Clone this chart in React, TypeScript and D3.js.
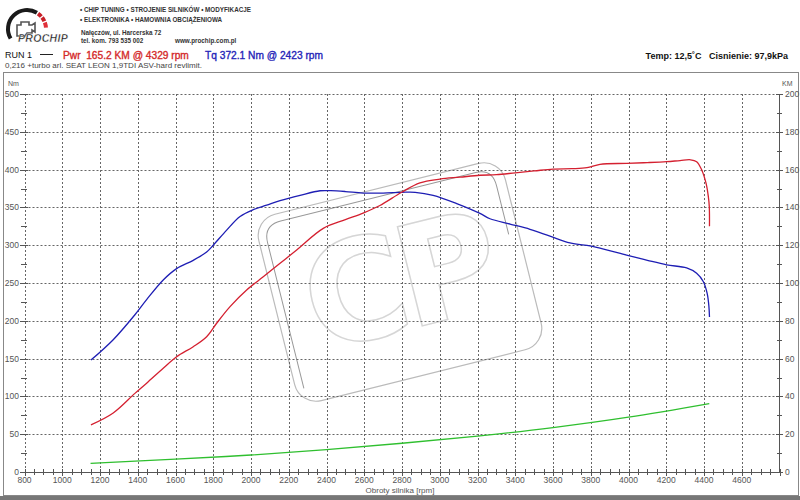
import React from "react";
import * as d3 from "d3";

// ---- data ----
const torqueRpm = [1152, 1270, 1385, 1447, 1535, 1606, 1694, 1765, 1800, 1871, 1942, 2012, 2083, 2154, 2260, 2366, 2423, 2500, 2594, 2700, 2800, 2870, 2965, 3090, 3213, 3266, 3372, 3478, 3584, 3690, 3796, 3849, 3990, 4100, 4202, 4308, 4361, 4396, 4417, 4426, 4429];
const torqueNm = [148, 175, 208, 228, 254, 269, 280, 291, 300, 320, 338, 347, 353, 359, 366, 372, 372.1, 371, 369, 369, 370, 370, 366, 355, 342, 335, 328, 321, 312, 303, 299, 296, 287, 280, 274, 270, 263, 252, 236, 219, 205];

const powerRpm = [1152, 1270, 1385, 1447, 1535, 1606, 1694, 1765, 1818, 1889, 1977, 2065, 2154, 2242, 2383, 2500, 2594, 2683, 2798, 2895, 3001, 3107, 3213, 3300, 3400, 3500, 3600, 3700, 3780, 3849, 3990, 4100, 4202, 4273, 4329, 4361, 4388, 4411, 4423, 4428, 4429];
const powerKm = [24.9, 31.2, 41.6, 47, 54.9, 61, 66.3, 71.6, 78.7, 87.5, 96.3, 103.3, 110.4, 117.5, 128.9, 133.5, 137, 141, 148, 153, 155, 156, 157, 157.3, 158.3, 159.3, 160.3, 160.5, 161, 162.8, 163.3, 163.7, 164.2, 164.8, 165.2, 164.2, 159.8, 152.7, 145.7, 140.4, 130];

const lossRpm = [1150, 1600, 2000, 2400, 2800, 3200, 3600, 4000, 4428];
const lossKm = [4.6, 6.8, 9.0, 11.8, 15.2, 19, 23.5, 29, 36.2];

const rpmTicks = [800, 1000, 1200, 1400, 1600, 1800, 2000, 2200, 2400, 2600, 2800, 3000, 3200, 3400, 3600, 3800, 4000, 4200, 4400, 4600];
const nmTicks = [0, 50, 100, 150, 200, 250, 300, 350, 400, 450, 500];
const kmTicks = [0, 20, 40, 60, 80, 100, 120, 140, 160, 180, 200];

const FONT = "'Liberation Sans', Arial, sans-serif";

export default function App() {
  const x = d3.scaleLinear().domain([800, 4800]).range([24.5, 779.5]);
  const yNm = d3.scaleLinear().domain([0, 500]).range([472, 94]);
  const yKm = d3.scaleLinear().domain([0, 200]).range([472, 94]);

  const line = d3.line<[number, number]>().curve(d3.curveCatmullRom.alpha(0.5));
  const torquePath = line(torqueRpm.map((r, i) => [x(r), yNm(torqueNm[i])]))!;
  const powerPath = line(powerRpm.map((r, i) => [x(r), yKm(powerKm[i])]))!;
  const lossPath = line(lossRpm.map((r, i) => [x(r), yKm(lossKm[i])]))!;

  const minorX = d3.range(800, 4801, 50);
  const minorNm = d3.range(0, 501, 25);
  const minorKm = d3.range(0, 201, 10);

  const arc = d3.arc<any>();
  const gauge = arc({ innerRadius: 17, outerRadius: 21, startAngle: -2.1, endAngle: 0.55 })!;
  const reds = [
    [0.62, 0.85],
    [0.92, 1.15],
    [1.22, 1.5],
  ].map((a) => arc({ innerRadius: 17, outerRadius: 21, startAngle: a[0], endAngle: a[1] })!);

  return (
    <svg width={800} height={500} style={{ position: "absolute", left: 0, top: 0, background: "#fff" }} fontFamily={FONT}>
      <rect x={0} y={0} width={800} height={500} fill="#fff" />

      {/* logo */}
      <g transform="translate(27,29)">
        <path d={gauge} fill="#1a1a1a" />
        {reds.map((d, i) => (
          <path key={i} d={d} fill={i === 2 ? "#e0303a" : "#c82028"} />
        ))}
        <circle r={15} fill="#fff" />
        <path d="M-10,-4 h4 v-3 h8 v3 h3 l3,-2 v9 l-3,-2 v3 h-5 l-2,3 h-8 z" fill="none" stroke="#555" strokeWidth={1.6} />
      </g>
      <text x={18} y={42} fontSize={10.5} fontWeight="bold" fontStyle="italic" fill="#111" stroke="#fff" strokeWidth={0.4} letterSpacing={0.3}>PROCHIP</text>

      <g fontSize={6.3} fontWeight="bold" fill="#333">
        <text x={80} y={12}>• CHIP TUNING • STROJENIE SILNIKÓW • MODYFIKACJE</text>
        <text x={80} y={22}>• ELEKTRONIKA • HAMOWNIA OBCIĄŻENIOWA</text>
      </g>
      <g fontSize={6.3} fill="#333" fontWeight="bold">
        <text x={81} y={35}>Nałęczów, ul. Harcerska 72</text>
        <text x={81} y={43}>tel. kom. 793 535 002</text>
        <text x={175} y={43}>www.prochip.com.pl</text>
      </g>

      {/* header */}
      <text x={5} y={58} fontSize={9} fill="#111">RUN 1</text>
      <line x1={40} x2={53} y1={54.5} y2={54.5} stroke="#222" strokeWidth={1} />
      <text x={63} y={59} fontSize={10.2} fill="#d42a2a" stroke="#d42a2a" strokeWidth={0.35} xmlSpace="preserve">Pwr  165.2 KM @ 4329 rpm</text>
      <text x={205} y={59} fontSize={10.2} fill="#2424b8" stroke="#2424b8" strokeWidth={0.35}>Tq 372.1 Nm @ 2423 rpm</text>
      <text x={5} y={68} fontSize={8} fill="#444">0,216 +turbo arl. SEAT LEON 1,9TDI ASV-hard revlimit.</text>
      <text x={788} y={59} fontSize={9} fontWeight="bold" fill="#111" textAnchor="end" xmlSpace="preserve">Temp: 12,5˚C   Cisnienie: 97,9kPa</text>

      {/* frame */}
      <rect x={3.5} y={72.5} width={795} height={423} fill="none" stroke="#888" strokeWidth={1} />
      <rect x={0} y={496} width={800} height={4} fill="#777" />

      {/* watermark */}
      <g transform="translate(400,282) rotate(-14)" fill="none">
        <rect x={-127} y={-96} width={254} height={192} rx={22} stroke="#bbb" strokeWidth={1.2} />
        <path d="M-119,80 V-70 Q-119,-88 -101,-88 H100 Q117,-88 117,-70 V-20" stroke="#999" strokeWidth={1} />
        <text x={-2} y={48} fontSize={140} fontWeight="bold" fontFamily="'DejaVu Sans', sans-serif" textAnchor="middle" stroke="#d6d6d6" strokeWidth={1.5} letterSpacing={-8}>CP</text>
      </g>

      {/* grid */}
      <g stroke="#666" strokeWidth={1} strokeDasharray="2,2">
        {nmTicks.filter((t) => t > 0).map((t) => (
          <line key={"h" + t} x1={x(800)} x2={x(4800)} y1={Math.round(yNm(t)) + 0.5} y2={Math.round(yNm(t)) + 0.5} />
        ))}
        {rpmTicks.map((t) => (
          <line key={"v" + t} x1={Math.round(x(t)) + 0.5} x2={Math.round(x(t)) + 0.5} y1={yNm(500)} y2={yNm(0)} />
        ))}
      </g>

      {/* axes */}
      <g stroke="#555" strokeWidth={1}>
        <line x1={x(800)} x2={x(4800)} y1={472.5} y2={472.5} />
        <line x1={779.5} x2={779.5} y1={yKm(200)} y2={yKm(0)} />
        {minorX.map((t) => (
          <line key={"mx" + t} x1={Math.round(x(t)) + 0.5} x2={Math.round(x(t)) + 0.5} y1={469} y2={t % 200 === 0 ? 476 : 475} />
        ))}
        {minorNm.map((t) => (
          <line key={"mn" + t} x1={t % 50 === 0 ? 20 : 21} x2={t % 50 === 0 ? 28 : 27} y1={Math.round(yNm(t)) + 0.5} y2={Math.round(yNm(t)) + 0.5} />
        ))}
        {minorKm.map((t) => (
          <line key={"mk" + t} x1={t % 20 === 0 ? 776 : 777} x2={t % 20 === 0 ? 783 : 782} y1={Math.round(yKm(t)) + 0.5} y2={Math.round(yKm(t)) + 0.5} />
        ))}
      </g>

      <g fontSize={8.5} fill="#555">
        {nmTicks.map((t) => (
          <text key={"ln" + t} x={19} y={yNm(t) + 3} textAnchor="end">{t}</text>
        ))}
        {kmTicks.map((t) => (
          <text key={"lk" + t} x={785} y={yKm(t) + 3}>{t}</text>
        ))}
        {rpmTicks.map((t) => (
          <text key={"lx" + t} x={x(t)} y={483} textAnchor="middle">{t}</text>
        ))}
        <text x={8} y={86} fontSize={7}>Nm</text>
        <text x={782} y={86} fontSize={7}>KM</text>
        <text x={400} y={493} fontSize={8} textAnchor="middle">Obroty silnika [rpm]</text>
      </g>

      {/* curves */}
      <path d={lossPath} fill="none" stroke="#2fbf2f" strokeWidth={1.3} />
      <path d={torquePath} fill="none" stroke="#1e1eb4" strokeWidth={1.3} />
      <path d={powerPath} fill="none" stroke="#d42030" strokeWidth={1.3} />
    </svg>
  );
}
